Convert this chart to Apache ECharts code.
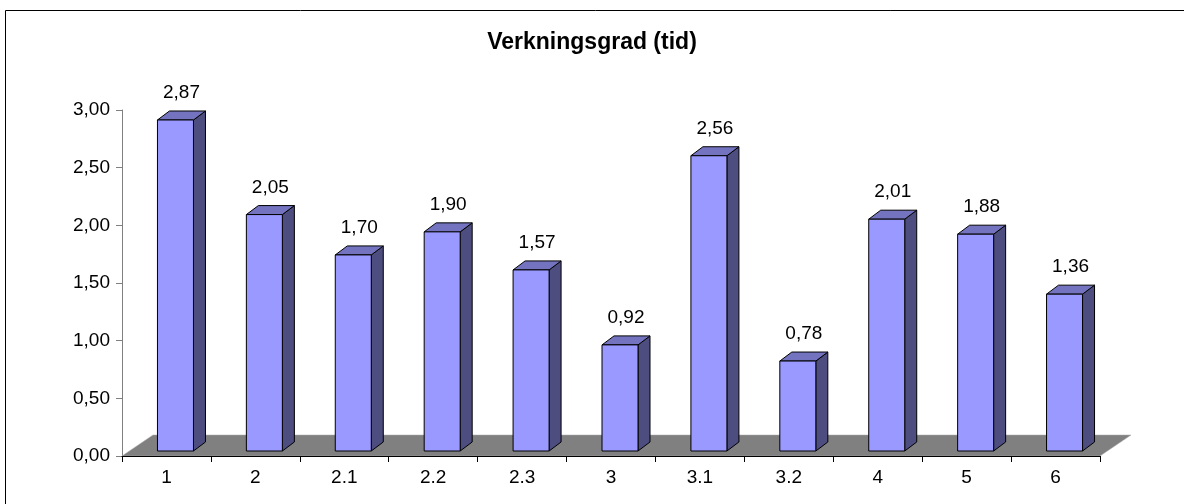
<!DOCTYPE html>
<html>
<head>
<meta charset="utf-8">
<script src="https://cdn.jsdelivr.net/npm/echarts@6/dist/echarts.min.js"></script>
<style>
  html, body { margin: 0; padding: 0; background: #fff; }
  #chart { width: 1184px; height: 504px; }
</style>
</head>
<body>
<div id="chart"></div>
<script>
const categories = ['1', '2', '2.1', '2.2', '2.3', '3', '3.1', '3.2', '4', '5', '6'];
const values = [2.87, 2.05, 1.70, 1.90, 1.57, 0.92, 2.56, 0.78, 2.01, 1.88, 1.36];
const yTicks = [0, 0.5, 1, 1.5, 2, 2.5, 3];

const fmt = v => v.toFixed(2).replace('.', ',');

// 3d look
const DEPTH_X = 12, DEPTH_Y = 9;
const FLOOR_X = 31, FLOOR_Y = 21;

function renderFloor(params, api) {
  const cs = params.coordSys;
  const y0 = api.coord([0, 0])[1];
  const x0 = cs.x, x1 = cs.x + cs.width;
  return {
    type: 'polygon',
    shape: { points: [[x0, y0], [x1, y0], [x1 + FLOOR_X, y0 - FLOOR_Y], [x0 + FLOOR_X, y0 - FLOOR_Y]] },
    style: { fill: '#808080', stroke: '#a8a8a8', lineWidth: 0.5 }
  };
}

function renderBar(params, api) {
  const i = api.value(0);
  const v = api.value(1);
  const base = api.coord([i, 0]);
  const h = api.size([0, v])[1];
  const left = base[0] - 9, right = base[0] + 27;
  const bottom = base[1] - 5, top = bottom - h;
  const line = { stroke: '#000', lineWidth: 1 };
  return {
    type: 'group',
    children: [
      {
        type: 'polygon',
        shape: { points: [[right, bottom], [right + DEPTH_X, bottom - DEPTH_Y], [right + DEPTH_X, top - DEPTH_Y], [right, top]] },
        style: Object.assign({ fill: '#4d4d80' }, line)
      },
      {
        type: 'polygon',
        shape: { points: [[left, top], [right, top], [right + DEPTH_X, top - DEPTH_Y], [left + DEPTH_X, top - DEPTH_Y]] },
        style: Object.assign({ fill: '#7373bf' }, line)
      },
      {
        type: 'rect',
        shape: { x: left, y: top, width: right - left, height: h },
        style: Object.assign({ fill: '#9999ff' }, line)
      },
      {
        type: 'text',
        style: {
          x: (left + right) / 2 + 6, y: top - 27,
          text: fmt(v), align: 'center', verticalAlign: 'middle',
          fill: '#000', font: '19px "Liberation Sans", Arial, sans-serif'
        }
      }
    ]
  };
}

const chart = echarts.init(document.getElementById('chart'));
chart.setOption({
  animation: false,
  textStyle: { fontFamily: '"Liberation Sans", Arial, sans-serif' },
  title: {
    text: 'Verkningsgrad (tid)',
    left: 'center', top: 26,
    textStyle: { fontSize: 23, fontWeight: 'bold', color: '#000' }
  },
  graphic: [{
    type: 'rect',
    shape: { x: 5.5, y: 10.5, width: 1300, height: 700 },
    style: { fill: 'none', stroke: '#000', lineWidth: 1 },
    silent: true
  }],
  grid: { left: 122, right: 84, top: 110, bottom: 48 },
  xAxis: {
    type: 'category',
    data: categories,
    z: 10,
    axisLine: { lineStyle: { color: '#000', width: 1 } },
    axisTick: { show: true, length: 6, lineStyle: { color: '#000' } },
    axisLabel: { color: '#000', fontSize: 19, margin: 12 },
    splitLine: { show: false }
  },
  yAxis: {
    type: 'value',
    min: 0, max: 3, interval: 0.5,
    axisLine: { show: true, lineStyle: { color: '#808080', width: 1 } },
    axisTick: { show: true, length: 6, lineStyle: { color: '#808080' } },
    axisLabel: { color: '#000', fontSize: 19, margin: 12, formatter: v => yTicks.includes(v) ? fmt(v) : '' },
    splitLine: { show: false }
  },
  series: [
    {
      type: 'custom',
      renderItem: renderFloor,
      data: [[0, 0]],
      silent: true,
      z: 1
    },
    {
      type: 'custom',
      renderItem: renderBar,
      encode: { x: 0, y: 1 },
      data: values.map((v, i) => [i, v]),
      z: 2
    }
  ]
});
</script>
</body>
</html>
